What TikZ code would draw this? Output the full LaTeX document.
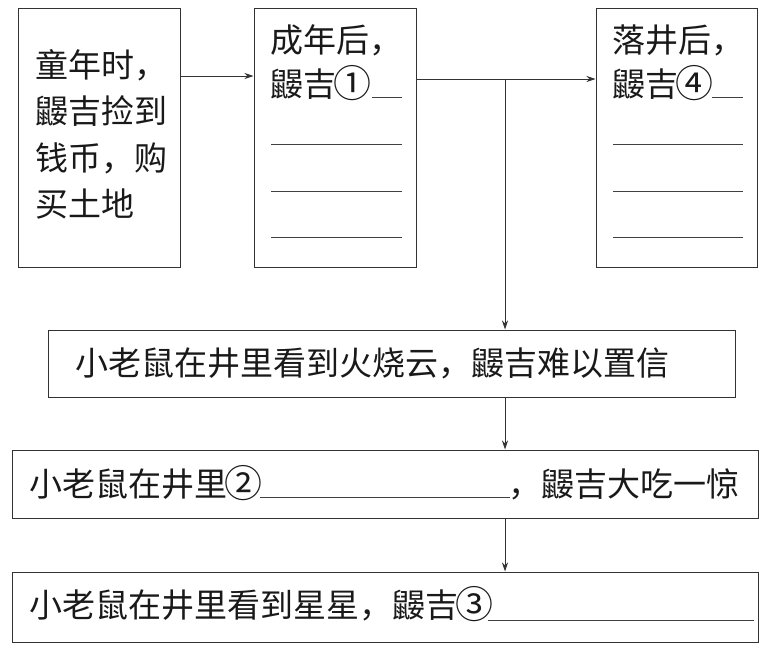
\documentclass[tikz,border=0pt]{standalone}
\usepackage{fontspec}
\usepackage{graphicx}
\newfontfamily\cjk{Noto Sans CJK SC}
\usetikzlibrary{arrows.meta}
\newcommand{\circnum}[1]{\makebox[1em]{\raisebox{-0.06em}{\scalebox{1.15}{#1}}}}
\begin{document}
\begin{tikzpicture}[x=1pt,y=-1pt,
  box/.style={draw=black!80,line width=1pt,inner sep=0pt},
  txt/.style={anchor=base west,inner sep=0pt,font=\cjk\fontsize{33pt}{33pt}\selectfont,text=black!90},
  arr/.style={draw=black!80,line width=1pt,-{Stealth[length=9pt,width=6pt]}},
  blank/.style={draw=black!75,line width=0.9pt}]
\useasboundingbox (0,0) rectangle (771,648);
% boxes
\node[box,minimum width=162pt,minimum height=259pt] (A) at (99,137.5) {};
\node[box,minimum width=162pt,minimum height=259pt] (B) at (335,137.5) {};
\node[box,minimum width=161pt,minimum height=259pt] (C) at (676.5,137.5) {};
\node[box,minimum width=687pt,minimum height=67pt] (D) at (391.5,363.5) {};
\node[box,minimum width=746pt,minimum height=68pt] (E) at (385,484) {};
\node[box,minimum width=746pt,minimum height=70pt] (F) at (385,607) {};
% box A text
\node[txt] (a1) at (35,77) {童年时，};
\node[txt] (a2) at (35,123) {鼹吉捡到};
\node[txt] (a3) at (35,170) {钱币，购};
\node[txt] (a4) at (35,216) {买土地};
% box B text
\node[txt] (b1) at (270,52) {成年后，};
\node[txt] (b2) at (270,96) {鼹吉\circnum{①}};
\draw[blank] (372,97) -- (402,97);
\draw[blank] (271,144) -- (402,144);
\draw[blank] (271,191) -- (402,191);
\draw[blank] (271,237) -- (402,237);
% box C text
\node[txt] (c1) at (612,52) {落井后，};
\node[txt] (c2) at (612,96) {鼹吉\circnum{④}};
\draw[blank] (712,97) -- (743,97);
\draw[blank] (613,144) -- (743,144);
\draw[blank] (613,191) -- (743,191);
\draw[blank] (613,237) -- (743,237);
% box D, E, F text
\node[txt] (d1) at (75,375) {小老鼠在井里看到火烧云，鼹吉难以置信};
\node[txt] (e1) at (29,496) {小老鼠在井里\circnum{②}};
\draw[blank] (260,497) -- (510,497);
\node[txt] (e2) at (508,496) {，鼹吉大吃一惊};
\node[txt] (f1) at (29,617) {小老鼠在井里看到星星，鼹吉\circnum{③}};
\draw[blank] (488,620) -- (754,620);
% connectors
\coordinate (ab) at (217,76);
\coordinate (j) at (505,79);
\draw[arr] (A.east |- ab) -- (B.west |- ab);
\draw[draw=black!80,line width=1pt] (B.east |- j) -- (j);
\draw[arr] (j) -- (C.west |- j);
\draw[arr] (j) -- (j |- D.north);
\draw[arr] (j |- D.south) -- (j |- E.north);
\draw[arr] (j |- E.south) -- (j |- F.north);
\end{tikzpicture}
\end{document}
